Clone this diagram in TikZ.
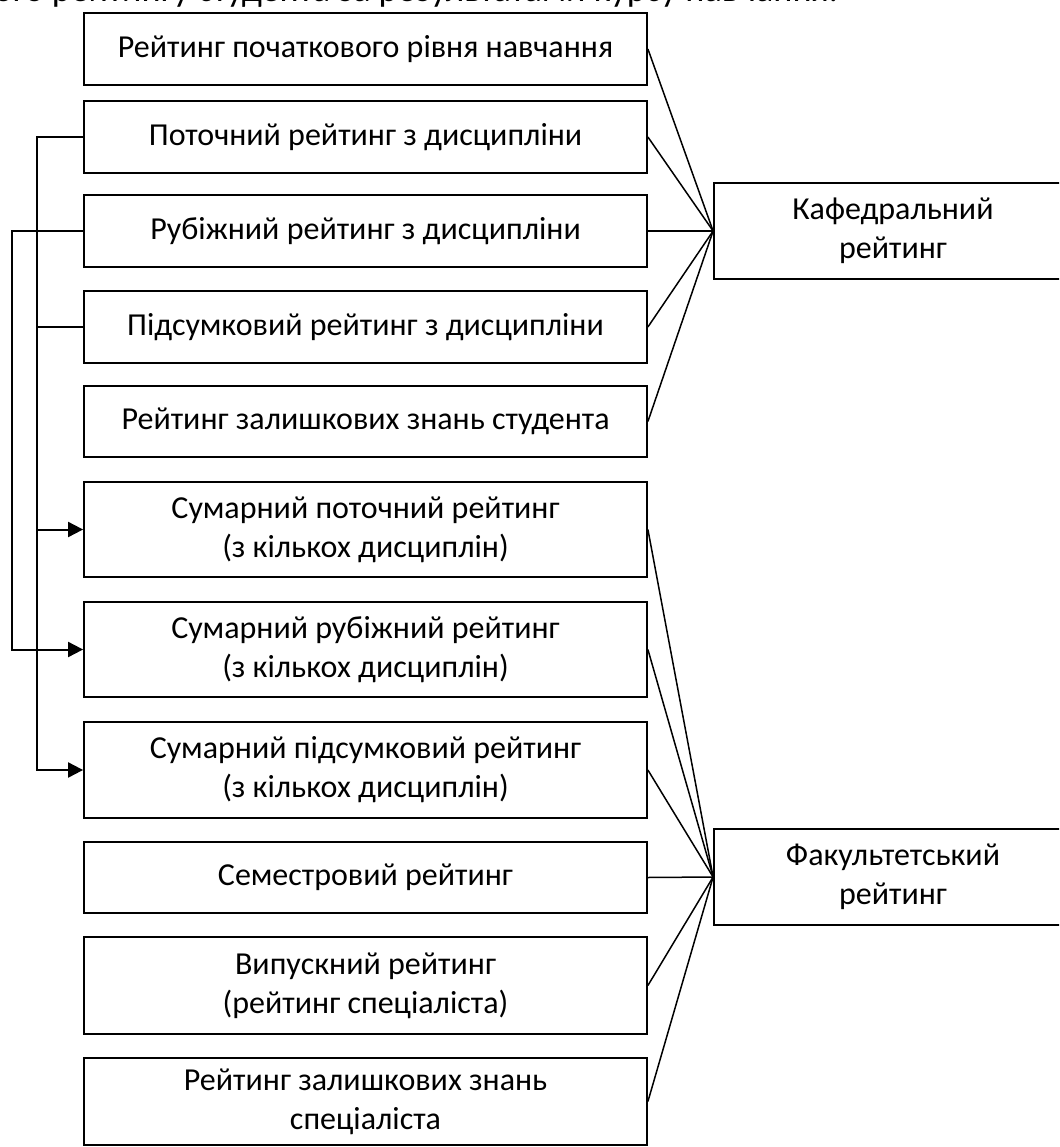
\documentclass[tikz,border=0pt]{standalone}
\usepackage{fontspec}
\setmainfont{Carlito}
\usetikzlibrary{arrows.meta}
\tikzset{
  box/.style={draw, line width=1.8pt, minimum width=563pt, inner sep=0pt, align=center,
    font=\fontsize{32}{39}\selectfont},
  rbox/.style={draw, line width=1.8pt, minimum width=358pt, minimum height=96pt, inner sep=0pt, align=center,
    font=\fontsize{32}{39}\selectfont},
  spoke/.style={line width=1.5pt},
  conn/.style={line width=2pt},
  tip/.style={-{Triangle[length=15pt,width=15pt]}}
}
\begin{document}
\begin{tikzpicture}[x=1pt,y=-1pt]
\useasboundingbox (0,0) rectangle (1059,1147);
\clip (0,0) rectangle (1059,1147);
\fill[white] (0,0) rectangle (1059,1147);
\node[anchor=base east, font=\fontsize{36}{40}\selectfont, inner sep=0pt] (top) at (838,2) {ого рейтингу студента за результатами курсу навчання.};
\node[box, minimum height=72pt] (b1) at (365.5,49) {Рейтинг початкового рівня навчання};
\node[box, minimum height=72pt] (b2) at (365.5,137) {Поточний рейтинг з дисципліни};
\node[box, minimum height=72pt] (b3) at (365.5,231) {Рубіжний рейтинг з дисципліни};
\node[box, minimum height=72pt] (b4) at (365.5,327) {Підсумковий рейтинг з дисципліни};
\node[box, minimum height=71pt] (b5) at (365.5,421.5) {Рейтинг залишкових знань студента};
\node[box, minimum height=95pt] (b6) at (365.5,529.5) {Сумарний поточний рейтинг\\(з кількох дисциплін)};
\node[box, minimum height=95pt] (b7) at (365.5,649.5) {Сумарний рубіжний рейтинг\\(з кількох дисциплін)};
\node[box, minimum height=96pt] (b8) at (365.5,770) {Сумарний підсумковий рейтинг\\(з кількох дисциплін)};
\node[box, minimum height=71pt] (b9) at (365.5,877.5) {Семестровий рейтинг};
\node[box, minimum height=97pt] (b10) at (365.5,985.5) {Випускний рейтинг\\(рейтинг спеціаліста)};
\node[box, minimum height=87pt] (b11) at (365.5,1101.5) {Рейтинг залишкових знань\\спеціаліста};
\node[rbox] (kaf) at (893,231) {Кафедральний\\рейтинг};
\node[rbox] (fak) at (893,877) {Факультетський\\рейтинг};
\foreach \b in {b1,b2,b3,b4,b5} \draw[spoke] (\b.east) -- (kaf.west);
\foreach \b in {b6,b7,b8,b9,b10,b11} \draw[spoke] (\b.east) -- (fak.west);
\coordinate (L1) at (37,0);
\coordinate (L2) at (12,0);
\draw[conn, tip] (b2.west) -- (b2.west -| L1) |- (b8.west);
\draw[conn] (b4.west -| L1) -- (b4.west);
\draw[conn, tip] (b6.west -| L1) -- (b6.west);
\draw[conn, tip] (b3.west) -- (b3.west -| L2) |- (b7.west);
\end{tikzpicture}
\end{document}
